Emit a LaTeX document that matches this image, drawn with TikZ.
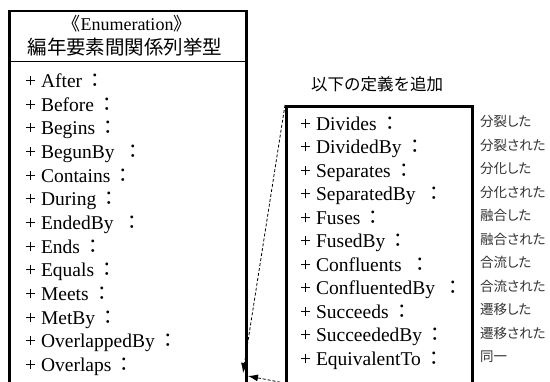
\documentclass[tikz,border=0pt]{standalone}
\usepackage{fontspec}
\setmainfont{Liberation Serif}
\newfontfamily\jpsans{Noto Sans CJK JP}
\newfontfamily\jplabel[RawFeature=+palt]{Noto Sans CJK JP}
\usetikzlibrary{arrows.meta}
\newcommand{\jcolon}{\kern3.5pt{\jpsans ：}}
\begin{document}
\begin{tikzpicture}[x=1pt,y=-1pt,
  item/.style={anchor=base west, inner sep=0pt, font=\fontsize{19.5}{21}\selectfont},
  lab/.style={anchor=base west, inner sep=0pt, font=\jplabel\fontsize{13.5}{15}\selectfont, text=black!80},
  umlbox/.style={draw, rectangle, anchor=north west, inner sep=0pt},
  dep/.style={densely dashed, line width=0.8pt, -{Latex[length=10pt,width=7pt]}}]
\useasboundingbox (0,0) rectangle (550,382);
\clip (0,0) rectangle (550,382);
\fill[white] (0,0) rectangle (550,382);
% left class box
\node[umlbox, line width=2.5pt, minimum width=237pt, minimum height=400pt] (lbox) at (8,10) {};
\draw[line width=1pt] (lbox.west |- 0,62) -- (lbox.east |- 0,62);
\node[anchor=base, inner sep=0pt, font=\fontsize{18}{20}\selectfont] (stereo) at (127,31) {{\jpsans 《}Enumeration{\jpsans 》}};
\node[anchor=base, inner sep=0pt, font=\jpsans\fontsize{19.5}{22}\selectfont] (title) at (125,55) {編年要素間関係列挙型};
\foreach \t [count=\i from 0] in {After, Before, Begins, BegunBy\ , Contains, During, EndedBy\ , Ends, Equals, Meets, MetBy, OverlappedBy, Overlaps}
  \node[item] (l\i) at (25, 87.5+23.67*\i) {+ \t\jcolon};
% right box
\node[anchor=base, inner sep=0pt, font=\jpsans\fontsize{16.5}{18}\selectfont] (head) at (377,91) {以下の定義を追加};
\node[umlbox, line width=3pt, minimum width=186pt, minimum height=300pt] (rbox) at (285,105) {};
\foreach \t [count=\i from 0] in {Divides, DividedBy, Separates, SeparatedBy\ , Fuses, FusedBy, Confluents\ , ConfluentedBy\ , Succeeds, SucceededBy, EquivalentTo}
  \node[item] (r\i) at (300, 130.5+23.5*\i) {+ \t\jcolon};
\foreach \t [count=\i from 0] in {分裂した, 分裂された, 分化した, 分化された, 融合した, 融合された, 合流した, 合流された, 遷移した, 遷移された, 同一}
  \node[lab] (j\i) at (480, 127+23.5*\i) {\t};
% connectors
\coordinate (tip1) at (243,373);
\coordinate (tip2) at (248,376);
\coordinate (tail2) at (300,386);
\draw[dep] (rbox.north west) -- (tip1);
\draw[dep] (tail2) -- (tip2);
\end{tikzpicture}
\end{document}
